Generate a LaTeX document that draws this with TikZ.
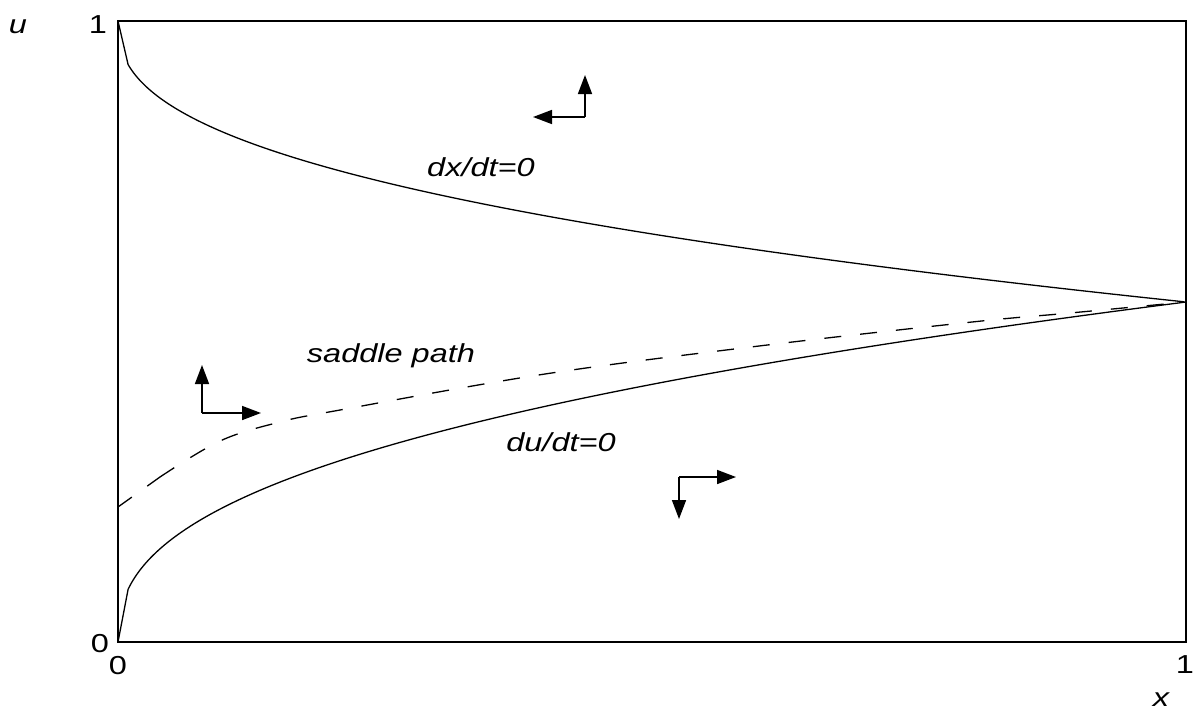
\documentclass[tikz,border=0pt]{standalone}
\usepackage{fontspec}
\setmainfont{Liberation Sans}[FakeStretch=1.25]
\usetikzlibrary{arrows.meta}
\begin{document}
\begin{tikzpicture}[x=1pt,y=-1pt,
  lbl/.style={font=\fontsize{26}{30}\selectfont\itshape,anchor=base,inner sep=0pt},
  num/.style={font=\fontsize{26}{30}\selectfont,anchor=base,inner sep=0pt},
  curve/.style={line width=1.3pt},
  dir/.style={line width=1.6pt,-{Triangle[length=19pt,width=14pt]}}]
\useasboundingbox (0,0) rectangle (1204,713);
% frame
\draw[line width=2pt] (118,21) rectangle (1186,642);
% dx/dt=0  (u = 1 - 0.4525 x^0.4, parametrised by t = x^0.4)
\draw[curve] (118,21) -- plot[domain=0.155:1,samples=120]
  ({118+1068*\x*\x*sqrt(\x)},{642-621*(1-0.4525*\x)});
% du/dt=0  (u = 0.5475 x^0.4)
\draw[curve] (118,642) -- plot[domain=0.155:1,samples=120]
  ({118+1068*\x*\x*sqrt(\x)},{642-621*(0.5475*\x)});
% saddle path
\draw[curve,dash pattern=on 17pt off 19pt] (118,507) -- (160,477)
  plot[smooth,tension=0.6] coordinates {(160,477) (220,441) (280,422) (340,410)
  (545,374) (759,346) (972,322) (1070,313) (1186,302)};
% direction arrows
\coordinate (c1) at (585,117); \coordinate (c1u) at (585,75); \coordinate (c1l) at (533,117);
\coordinate (c2) at (202,413); \coordinate (c2u) at (202,365); \coordinate (c2r) at (261,413);
\coordinate (c3) at (679,477); \coordinate (c3d) at (679,519); \coordinate (c3r) at (736,477);
\draw[dir] (c1) -- (c1u); \draw[dir] (c1) -- (c1l);
\draw[dir] (c2) -- (c2u); \draw[dir] (c2) -- (c2r);
\draw[dir] (c3) -- (c3d); \draw[dir] (c3) -- (c3r);
% labels
\node[lbl] (lu) at (18,33) {u};
\node[num] (l1) at (98,33) {1};
\node[num] (l0) at (100,652) {0};
\node[num] (b0) at (118,674) {0};
\node[num] (b1) at (1185,673) {1};
\node[lbl] (lx) at (1161,706) {x};
\node[lbl] (ldx) at (481,176) {dx/dt=0};
\node[lbl] (lsp) at (391,362) {saddle path};
\node[lbl] (ldu) at (561,451) {du/dt=0};
\end{tikzpicture}
\end{document}
